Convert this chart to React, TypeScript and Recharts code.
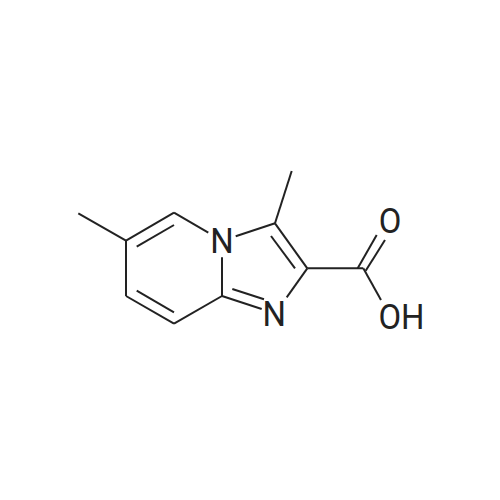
import React from 'react';
import { ComposedChart, Line, Scatter, XAxis, YAxis } from 'recharts';

type Pt = { x: number; y: number };

const ringBonds: number[][] = [
  [126, 240.7, 174, 212.7],
  [174, 212.7, 208.3, 232.7],
  [222, 257.3, 222, 296],
  [222, 296, 174, 323.7],
  [174, 323.7, 126, 296],
  [126, 296, 126, 240.7],
  [222, 296, 261.7, 309],
  [286.7, 297.3, 307.3, 268.3],
  [307.3, 268.3, 275, 223.3],
  [275, 223.3, 235.7, 236.3],
];
const innerBonds: number[][] = [
  [136.7, 246.7, 174, 225],
  [136.7, 290.7, 174, 312.3],
  [232.3, 289, 264, 299.3],
  [295, 268.3, 271, 236],
];
const sideBonds: number[][] = [
  [78.3, 213.3, 126, 240.7],
  [275, 223.3, 291.7, 171],
  [307.3, 268.3, 363.3, 268.3],
  [357.7, 268.3, 376.7, 235],
  [365.7, 270.7, 385, 240],
  [363.3, 268.3, 381, 300],
];
const atomLabels = [
  { x: 222, y: 241, label: 'N' },
  { x: 274.3, y: 314, label: 'N' },
  { x: 390, y: 221, label: 'O' },
  { x: 401.5, y: 316.7, label: 'OH' },
];

const allBonds = [...ringBonds, ...innerBonds, ...sideBonds];
const toPts = (b: number[]): Pt[] => [
  { x: b[0], y: b[1] },
  { x: b[2], y: b[3] },
];

const AtomText = (props: any) => (
  <text
    transform={`translate(${props.cx} ${props.cy}) scale(0.94 1)`}
    textAnchor="middle"
    dominantBaseline="central"
    fontFamily="Roboto, sans-serif"
    fontSize={35}
    fill="#222222"
  >
    {props.payload.label}
  </text>
);

export default function App() {
  return (
    <div style={{ position: 'absolute', left: 0, top: 0, width: 500, height: 500, background: '#fff' }}>
      <ComposedChart width={500} height={500} margin={{ top: 0, right: 0, bottom: 0, left: 0 }}>
        <XAxis type="number" dataKey="x" domain={[0, 500]} hide />
        <YAxis type="number" dataKey="y" domain={[0, 500]} reversed hide />
        {allBonds.map((b, i) => (
          <Line
            key={i}
            data={toPts(b)}
            dataKey="y"
            stroke="#222222"
            strokeWidth={2}
            dot={false}
            activeDot={false}
            legendType="none"
            isAnimationActive={false}
          />
        ))}
        <Scatter data={atomLabels} dataKey="y" shape={AtomText} isAnimationActive={false} />
      </ComposedChart>
    </div>
  );
}
